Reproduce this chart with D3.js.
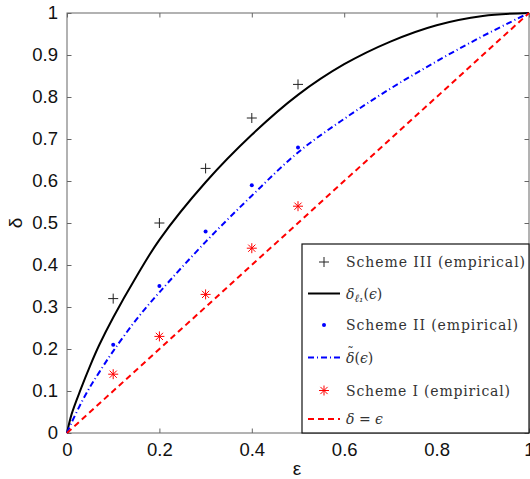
<!DOCTYPE html>
<html>
<head>
<meta charset="utf-8">
<script src="https://cdn.jsdelivr.net/npm/d3@7"></script>
<style>
  html, body { margin: 0; padding: 0; background: #fff; overflow: hidden; }
</style>
</head>
<body>
<div id="chart"></div>
<script>
// theoretical curves
const epsGrid = [0, 0.01, 0.03, 0.05, 0.07, 0.1, 0.15, 0.2, 0.3, 0.4, 0.5, 0.6, 0.7, 0.8, 0.9, 1]
const deltaL1 = [0, 0.045, 0.105, 0.16, 0.21, 0.275, 0.372, 0.46, 0.597, 0.71, 0.805, 0.878, 0.932, 0.971, 0.993, 1]
const deltaTilde = [0, 0.025, 0.07, 0.11, 0.145, 0.195, 0.27, 0.335, 0.455, 0.565, 0.668, 0.748, 0.82, 0.885, 0.945, 1]
const diagEps = [0, 1]

// empirical points
const schemeEps = [0.1, 0.2, 0.3, 0.4, 0.5]
const scheme3 = [0.32, 0.5, 0.63, 0.75, 0.83]
const scheme2 = [0.21, 0.35, 0.48, 0.59, 0.68]
const scheme1 = [0.14, 0.23, 0.33, 0.44, 0.54]

const xTicks = [0, 0.2, 0.4, 0.6, 0.8, 1]
const yTicks = [0, 0.1, 0.2, 0.3, 0.4, 0.5, 0.6, 0.7, 0.8, 0.9, 1]

const canvasWidth = 530
const canvasHeight = 479
const margins = {top: 13, right: 1, bottom: 46, left: 67}
const width = canvasWidth - margins.left - margins.right
const height = canvasHeight - margins.top - margins.bottom

const axisColor = '#666'
const tickFont = '"Liberation Sans", Arial, sans-serif'
const legendFont = '"DejaVu Serif", serif'

const xScale = d3.scaleLinear().domain([0, 1]).range([0, width])
const yScale = d3.scaleLinear().domain([0, 1]).range([height, 0])

const root = d3
  .select('#chart')
  .append('svg')
  .attr('width', canvasWidth)
  .attr('height', canvasHeight)

const svg = root
  .append('g')
  .attr('transform', `translate(${margins.left}, ${margins.top})`)

// axes, matlab style: inward ticks on all sides
const styleAxis = g => {
  g.select('.domain').remove()
  g.selectAll('line').attr('stroke', axisColor)
  g.selectAll('text')
    .attr('fill', '#111')
    .style('font-family', tickFont)
    .style('font-size', '18.5px')
}

svg
  .append('g')
  .attr('transform', `translate(0, ${height})`)
  .call(d3.axisBottom(xScale).tickValues(xTicks).tickFormat(d3.format('')).tickSizeInner(-4.5).tickPadding(10))
  .call(styleAxis)

svg
  .append('g')
  .call(d3.axisTop(xScale).tickValues(xTicks).tickSizeInner(-4.5).tickFormat(''))
  .call(styleAxis)

svg
  .append('g')
  .call(d3.axisLeft(yScale).tickValues(yTicks).tickFormat(d3.format('')).tickSizeInner(-4.5).tickPadding(9))
  .call(styleAxis)

svg
  .append('g')
  .attr('transform', `translate(${width}, 0)`)
  .call(d3.axisRight(yScale).tickValues(yTicks).tickSizeInner(-4.5).tickFormat(''))
  .call(styleAxis)

svg
  .append('rect')
  .attr('x', 0)
  .attr('y', 0)
  .attr('width', width)
  .attr('height', height)
  .attr('fill', 'none')
  .attr('stroke', axisColor)
  .attr('stroke-width', 1)

// axis labels
svg
  .append('text')
  .attr('transform', `translate(${-margins.left + 15}, ${height / 2}) rotate(-90)`)
  .attr('text-anchor', 'middle')
  .attr('dy', '0.35em')
  .style('font-family', tickFont)
  .style('font-size', '19px')
  .attr('fill', '#111')
  .text('δ')

svg
  .append('text')
  .attr('x', width / 2 - 1)
  .attr('y', height + 42)
  .attr('text-anchor', 'middle')
  .style('font-family', tickFont)
  .style('font-size', '19px')
  .attr('fill', '#111')
  .text('ε')

// curves
const line = d3
  .line()
  .x(d => xScale(d[0]))
  .y(d => yScale(d[1]))
  .curve(d3.curveCatmullRom)

const plot = svg.append('g')

plot
  .append('path')
  .datum(epsGrid.map((e, i) => [e, deltaL1[i]]))
  .attr('d', line)
  .attr('fill', 'none')
  .attr('stroke', '#000')
  .attr('stroke-width', 2)

plot
  .append('path')
  .datum(epsGrid.map((e, i) => [e, deltaTilde[i]]))
  .attr('d', line)
  .attr('fill', 'none')
  .attr('stroke', '#0000ff')
  .attr('stroke-width', 2)
  .attr('stroke-dasharray', '6,3,1,3')

plot
  .append('path')
  .datum(diagEps.map(e => [e, e]))
  .attr('d', line)
  .attr('fill', 'none')
  .attr('stroke', '#ff0000')
  .attr('stroke-width', 2)
  .attr('stroke-dasharray', '6,4')

// markers
const drawPlus = (g, x, y) => {
  g.append('path')
    .attr('d', `M${x - 5},${y}H${x + 5}M${x},${y - 5}V${y + 5}`)
    .attr('stroke', '#222')
    .attr('stroke-width', 1)
}
const drawDot = (g, x, y) => {
  g.append('circle')
    .attr('cx', x)
    .attr('cy', y)
    .attr('r', 2)
    .attr('fill', '#0000ff')
}
const drawStar = (g, x, y) => {
  const r = 5
  const q = r * 0.72
  g.append('path')
    .attr('d', `M${x - r},${y}H${x + r}M${x},${y - r}V${y + r}M${x - q},${y - q}L${x + q},${y + q}M${x - q},${y + q}L${x + q},${y - q}`)
    .attr('stroke', '#ff0000')
    .attr('stroke-width', 1)
}

schemeEps.forEach((e, i) => {
  drawPlus(plot, xScale(e), yScale(scheme3[i]))
  drawDot(plot, xScale(e), yScale(scheme2[i]))
  drawStar(plot, xScale(e), yScale(scheme1[i]))
})

// legend
const legendX = 302 - margins.left
const legendY = 244 - margins.top
const legend = svg.append('g').attr('transform', `translate(${legendX}, ${legendY})`)

legend
  .append('rect')
  .attr('width', width - legendX)
  .attr('height', height - legendY)
  .attr('fill', '#fff')
  .attr('stroke', '#111')
  .attr('stroke-width', 1.2)

const rowY = [18, 49.5, 81, 113.5, 146.5, 175]
const sampleX0 = 6
const sampleX1 = 38
const textX = 44

const addText = (y, parts, len) => {
  const t = legend
    .append('text')
    .attr('x', textX)
    .attr('y', y + 5)
    .style('font-family', legendFont)
    .style('font-size', '14px')
    .attr('fill', '#333')
  parts.forEach(p => {
    const s = t.append('tspan').text(p.text)
    if (p.italic) s.style('font-style', 'italic')
    if (p.sub) s.attr('baseline-shift', '-30%').style('font-size', '11px')
  })
  if (len) t.attr('textLength', len).attr('lengthAdjust', 'spacing')
}

drawPlus(legend, (sampleX0 + sampleX1) / 2, rowY[0])
addText(rowY[0], [{text: 'Scheme III (empirical)'}], 179)

legend
  .append('line')
  .attr('x1', sampleX0)
  .attr('x2', sampleX1)
  .attr('y1', rowY[1])
  .attr('y2', rowY[1])
  .attr('stroke', '#000')
  .attr('stroke-width', 2)
addText(rowY[1], [{text: 'δ', italic: true}, {text: 'ℓ₁', italic: true, sub: true}, {text: '('}, {text: 'ϵ', italic: true}, {text: ')'}])

drawDot(legend, (sampleX0 + sampleX1) / 2, rowY[2])
addText(rowY[2], [{text: 'Scheme II (empirical)'}], 172)

legend
  .append('line')
  .attr('x1', sampleX0)
  .attr('x2', sampleX1)
  .attr('y1', rowY[3])
  .attr('y2', rowY[3])
  .attr('stroke', '#0000ff')
  .attr('stroke-width', 2)
  .attr('stroke-dasharray', '6,3,1,3')
addText(rowY[3], [{text: 'δ', italic: true}, {text: '('}, {text: 'ϵ', italic: true}, {text: ')'}])
legend
  .append('text')
  .attr('x', textX + 4.5)
  .attr('y', rowY[3] - 2)
  .attr('text-anchor', 'middle')
  .style('font-family', legendFont)
  .style('font-size', '13px')
  .attr('fill', '#333')
  .text('˜')

drawStar(legend, (sampleX0 + sampleX1) / 2, rowY[4])
addText(rowY[4], [{text: 'Scheme I (empirical)'}], 164)

legend
  .append('line')
  .attr('x1', sampleX0)
  .attr('x2', sampleX1)
  .attr('y1', rowY[5])
  .attr('y2', rowY[5])
  .attr('stroke', '#ff0000')
  .attr('stroke-width', 2)
  .attr('stroke-dasharray', '6,4')
addText(rowY[5], [{text: 'δ', italic: true}, {text: ' = '}, {text: 'ϵ', italic: true}])
</script>
</body>
</html>
